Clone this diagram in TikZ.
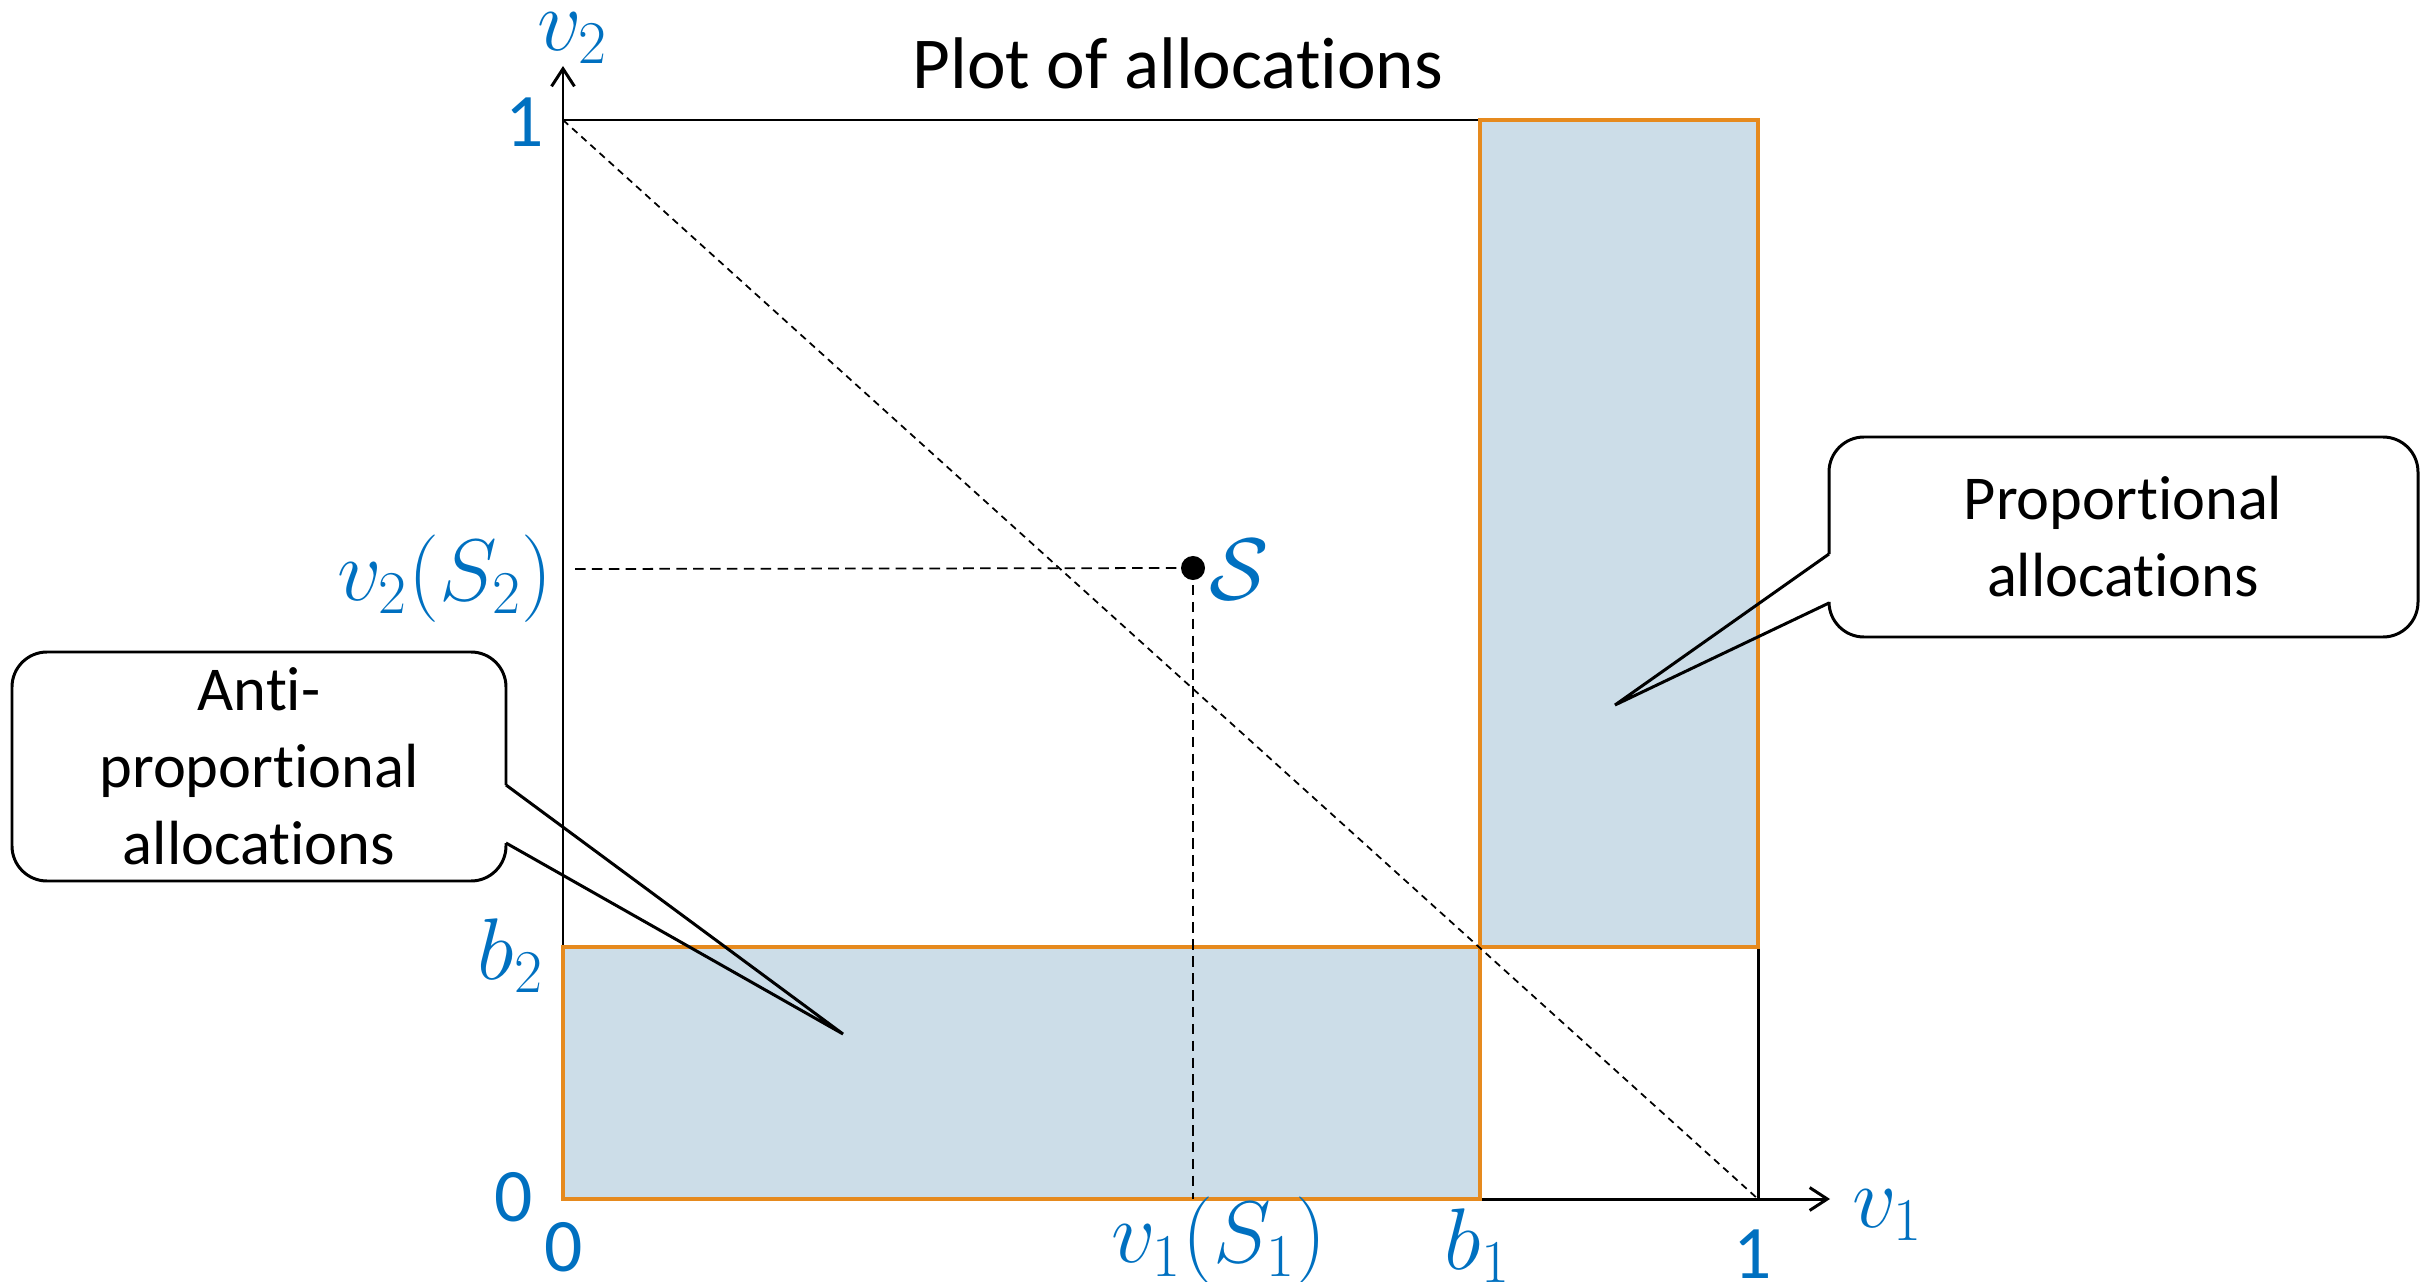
\documentclass[tikz,border=0pt]{standalone}
\usepackage{fontspec}
\setmainfont{Carlito}[Ligatures=NoCommon]
\usetikzlibrary{arrows.meta}
\definecolor{lblue}{HTML}{0070C0}
\definecolor{fillb}{HTML}{CCDDE8}
\definecolor{orng}{HTML}{E68A1E}
\newcommand{\nti}{t\kern0pt i}
\begin{document}
\begin{tikzpicture}[x=0.01cm,y=-0.01cm,
  lbl/.style={text=lblue, inner sep=0pt, font=\fontsize{21.5}{24}\selectfont},
  mlbl/.style={text=lblue, inner sep=0pt, font=\fontsize{24}{27}\selectfont},
  calltext/.style={align=center, inner sep=0pt, font=\fontsize{17.75}{21.9}\selectfont},
  callline/.style={line width=0.85pt, line join=miter},
  axisline/.style={line width=0.85pt},
  arr/.style={-{Straight Barb[length=5pt,width=6.5pt]}},
  regionborder/.style={draw=orng, line width=1.1pt},
  dsh/.style={line width=0.5pt, dash pattern=on 3pt off 1.8pt},
  ddiag/.style={line width=0.5pt, dash pattern=on 2pt off 1.5pt},
]
\useasboundingbox (0,0) rectangle (2420,1282);
% key points
\coordinate (O) at (563,1199);
\coordinate (X1) at (1758,1199);
\coordinate (Y1) at (563,120);
\coordinate (B1) at (1480,1199);
\coordinate (B2) at (563,947);
\coordinate (T) at (1480,120);
\coordinate (BR) at (1758,947);
\coordinate (XE) at (1830,1199);
\coordinate (YE) at (563,66);
% regions
\fill[fillb] (B2) rectangle (B1);
\fill[fillb] (T) rectangle (BR);
% axes and frame
\draw[axisline, arr] (O) -- (XE);
\draw[axisline, arr] (O) -- (YE);
\draw[axisline] (Y1) -- (T);
\draw[axisline] (BR) -- (X1);
% orange borders
\draw[regionborder] (B2) rectangle (B1);
\draw[regionborder] (T) rectangle (BR);
% diagonal
\draw[ddiag] (Y1) -- (X1);
% point S
\node[circle, fill=black, inner sep=0pt, minimum size=0.24cm] (S) at (1193,568) {};
\coordinate (H) at (575,569);
\draw[dsh] (H) -- (S.center);
\draw[dsh] (S.center) -- (S |- O);
% labels
\node[mlbl] (lv2) at (573,38) {$v_2$};
\node[lbl] (l1y) at (525,122) {1};
\node[mlbl] (lv2s) at (445,579) {$v_2(S_2)$};
\node[mlbl] (lb2) at (511,956) {$b_2$};
\node[lbl] (l0y) at (514,1197) {0};
\node[lbl] (l0x) at (564,1247) {0};
\node[mlbl] (lv1s) at (1219,1241) {$v_1(S_1)$};
\node[mlbl] (lb1) at (1478,1246) {$b_1$};
\node[lbl] (l1x) at (1753,1254) {1};
\node[mlbl] (lv1) at (1888,1215) {$v_1$};
\node[mlbl] (lS) at (1239,570) {$\mathcal{S}$};
% title
\node[font=\fontsize{20.8}{25}\selectfont, anchor=base, inner sep=0pt] (title) at (1178,89) {Plot of alloca\nti ons};
% right callout
\node[calltext] (pt) at (2123,537) {Propor\nti onal\\alloca\nti ons};
\coordinate (ptip) at (1615,705);
\draw[callline, rounded corners=0.35cm] (1829,603) -- (1829,637) -- (2418,637) -- (2418,437) -- (1829,437) -- (1829,554);
\draw[callline] (1829,554) -- (ptip) -- (1829,603);
% left callout
\node[calltext] (at) at (259,766) {An\nti-\\propor\nti onal\\alloca\nti ons};
\coordinate (atip) at (843,1034);
\draw[callline, rounded corners=0.35cm] (506,843) -- (506,881) -- (12,881) -- (12,652) -- (506,652) -- (506,785);
\draw[callline] (506,785) -- (atip) -- (506,843);
\end{tikzpicture}
\end{document}
